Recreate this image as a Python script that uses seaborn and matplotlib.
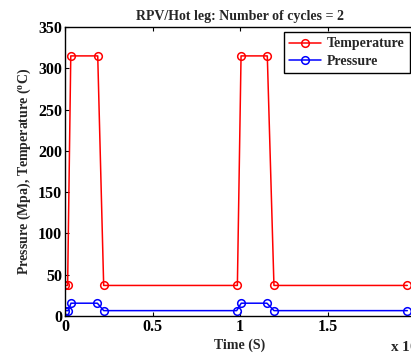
import numpy as np
import matplotlib
matplotlib.use('Agg')
import matplotlib.pyplot as plt
import seaborn as sns

# tiempos en segundos
time_temp = [0, 150, 330, 1870, 2210, 9850, 10060, 11560, 11940, 19560]
temperature = [37, 37, 315, 315, 37, 37, 315, 315, 37, 37]

time_pres = [0, 190, 340, 1850, 2210, 9810, 10070, 11540, 11940, 19560]
pressure = [6.5, 6.5, 15.5, 15.5, 6.5, 6.5, 15.5, 15.5, 6.5, 6.5]

xticks = [0, 0.5, 1, 1.5, 2]
xticklabels = ['0', '0.5', '1', '1.5', '']
yticks = [0, 50, 100, 150, 200, 250, 300, 350]

sns.set_style('ticks')
plt.rcParams['font.family'] = ['Liberation Serif', 'DejaVu Serif']
plt.rcParams['font.weight'] = 'bold'
plt.rcParams['mathtext.fontset'] = 'custom'
plt.rcParams['mathtext.rm'] = 'Liberation Serif:bold'
plt.rcParams['mathtext.bf'] = 'Liberation Serif:bold'
plt.rcParams['mathtext.default'] = 'bf'

fig = plt.figure(figsize=(4.11, 3.56), dpi=100)
ax = fig.add_axes([65 / 411, 40 / 356, 350 / 411, 289 / 356])

scale = 1e4
sns.lineplot(x=np.array(time_temp) / scale, y=temperature, ax=ax, sort=False,
             color='red', marker='o', mfc='none', mec='red', ms=5.5, mew=1.1,
             lw=1.1, label='Temperature')
sns.lineplot(x=np.array(time_pres) / scale, y=pressure, ax=ax, sort=False,
             color='blue', marker='o', mfc='none', mec='blue', ms=5.5, mew=1.1,
             lw=1.1, label='Pressure')

ax.set_xlim(0, 2)
ax.set_ylim(0, 350)
ax.set_xticks(xticks)
ax.set_xticklabels(xticklabels)
ax.set_yticks(yticks)
ax.tick_params(direction='in', length=3, width=0.8, top=True, right=True,
               labelsize=11.5, colors='black', pad=2)
for lab in ax.get_xticklabels() + ax.get_yticklabels():
    lab.set_fontweight('bold')
for s in ax.spines.values():
    s.set_color('black')
    s.set_linewidth(1)

ax.set_title('RPV/Hot leg: Number of cycles = 2', fontsize=10, fontweight='bold', pad=5)
ax.set_xlabel('Time (S)', fontsize=10, fontweight='bold', labelpad=3)
ax.set_ylabel(r'Pressure (Mpa), Temperature ($^{o}$C)', fontsize=10,
              fontweight='bold', labelpad=4)

fig.text(390 / 411, 1 - 352 / 356, r'x 10$^{4}$', fontsize=11, fontweight='bold',
         ha='left', va='baseline')

leg = ax.legend(loc='upper right', fontsize=10, frameon=True, fancybox=False,
                edgecolor='black', framealpha=1, handlelength=2.3,
                borderaxespad=0.35, borderpad=0.4, labelspacing=0.3, handletextpad=0.4)
leg.get_frame().set_linewidth(1)
for t in leg.get_texts():
    t.set_fontweight('bold')

fig.savefig('out.png', dpi=100)
